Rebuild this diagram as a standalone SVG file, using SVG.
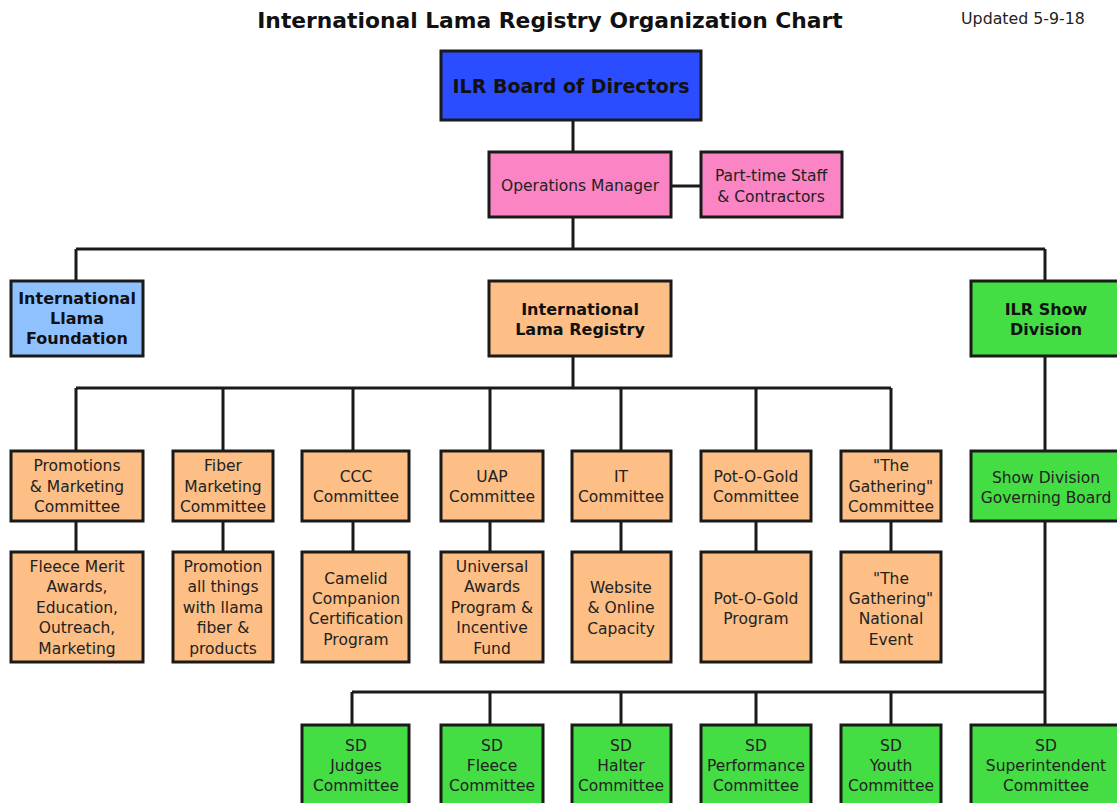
<svg xmlns="http://www.w3.org/2000/svg" width="1117" height="803" viewBox="0 0 1117 803">
<style>
.box{stroke:#1a1a1a;stroke-width:3}
.blue{fill:#2b4cff}.pink{fill:#fb84c4}.lblue{fill:#8fc1ff}.org{fill:#fdbf85}.grn{fill:#44dd44}
.t{font-family:"DejaVu Sans","Verdana",sans-serif;font-size:15.5px;fill:#222;text-anchor:middle}
.b{font-family:"DejaVu Sans","Verdana",sans-serif;font-size:16px;font-weight:bold;fill:#111;text-anchor:middle}
.c{fill:none;stroke:#1a1a1a;stroke-width:3}
</style>
<rect width="1117" height="803" fill="#fff"/>
<text x="550" y="28" style="font-family:'DejaVu Sans',sans-serif;font-size:21.8px;font-weight:bold;fill:#111" text-anchor="middle">International Lama Registry Organization Chart</text>
<text x="1023" y="24" style="font-family:'DejaVu Sans',sans-serif;font-size:15.8px;fill:#222" text-anchor="middle">Updated 5-9-18</text>

<g id="connectors">
<path class="c" d="M573 120V152M671 186H701M573 217V249M76 249H1045M76 249V281M1045 249V281M573 356V388M76 388H891M76 388V451M223 388V451M353 388V451M490 388V451M621 388V451M756 388V451M891 388V451"/>
<path class="c" d="M76 521V552M223 521V552M353 521V552M490 521V552M621 521V552M756 521V552M891 521V552"/>
<path class="c" d="M1045 356V451M1045 521V725M352 692H1045M352 692V725M490 692V725M621 692V725M756 692V725M891 692V725"/>
</g>

<g id="board"><rect class="box blue" x="441" y="51" width="260" height="69"/><text class="b" x="571" y="93" style="font-size:19px">ILR Board of Directors</text></g>
<g id="ops"><rect class="box pink" x="489" y="152" width="182" height="65"/><text class="t" x="580" y="190.5">Operations Manager</text></g>
<g id="parttime"><rect class="box pink" x="701" y="152" width="141" height="65"/><text class="t" x="771" y="180.5">Part-time Staff</text><text class="t" x="771" y="201.5">&amp; Contractors</text></g>

<g id="ilf"><rect class="box lblue" x="11" y="281" width="132" height="75"/><text class="b" x="77" y="304">International</text><text class="b" x="77" y="324">Llama</text><text class="b" x="77" y="344">Foundation</text></g>
<g id="ilr"><rect class="box org" x="489" y="281" width="182" height="75"/><text class="b" x="580" y="315">International</text><text class="b" x="580" y="335">Lama Registry</text></g>
<g id="showdiv"><rect class="box grn" x="971" y="281" width="150" height="75"/><text class="b" x="1046" y="315">ILR Show</text><text class="b" x="1046" y="335">Division</text></g>

<g id="promo"><rect class="box org" x="11" y="451" width="132" height="70"/><text class="t" x="77" y="471">Promotions</text><text class="t" x="77" y="491.5">&amp; Marketing</text><text class="t" x="77" y="512">Committee</text></g>
<g id="fiber"><rect class="box org" x="173" y="451" width="100" height="70"/><text class="t" x="223" y="471">Fiber</text><text class="t" x="223" y="491.5">Marketing</text><text class="t" x="223" y="512">Committee</text></g>
<g id="ccc"><rect class="box org" x="302" y="451" width="107" height="70"/><text class="t" x="356" y="482">CCC</text><text class="t" x="356" y="502">Committee</text></g>
<g id="uap"><rect class="box org" x="441" y="451" width="102" height="70"/><text class="t" x="492" y="482">UAP</text><text class="t" x="492" y="502">Committee</text></g>
<g id="it"><rect class="box org" x="572" y="451" width="99" height="70"/><text class="t" x="621" y="482">IT</text><text class="t" x="621" y="502">Committee</text></g>
<g id="pog"><rect class="box org" x="701" y="451" width="110" height="70"/><text class="t" x="756" y="482">Pot-O-Gold</text><text class="t" x="756" y="502">Committee</text></g>
<g id="gath"><rect class="box org" x="841" y="451" width="100" height="70"/><text class="t" x="891" y="471">"The</text><text class="t" x="891" y="491.5">Gathering"</text><text class="t" x="891" y="512">Committee</text></g>
<g id="sdgb"><rect class="box grn" x="971" y="451" width="150" height="70"/><text class="t" x="1046" y="482.5">Show Division</text><text class="t" x="1046" y="502.5">Governing Board</text></g>

<g id="fleece"><rect class="box org" x="11" y="552" width="132" height="110"/><text class="t" x="77" y="571.5">Fleece Merit</text><text class="t" x="77" y="592">Awards,</text><text class="t" x="77" y="612.5">Education,</text><text class="t" x="77" y="633">Outreach,</text><text class="t" x="77" y="653.5">Marketing</text></g>
<g id="promofiber"><rect class="box org" x="173" y="552" width="100" height="110"/><text class="t" x="223" y="571.5">Promotion</text><text class="t" x="223" y="592">all things</text><text class="t" x="223" y="612.5">with llama</text><text class="t" x="223" y="633">fiber &amp;</text><text class="t" x="223" y="653.5">products</text></g>
<g id="camelid"><rect class="box org" x="302" y="552" width="107" height="110"/><text class="t" x="356" y="583.5">Camelid</text><text class="t" x="356" y="603.5">Companion</text><text class="t" x="356" y="624">Certification</text><text class="t" x="356" y="644.5">Program</text></g>
<g id="universal"><rect class="box org" x="441" y="552" width="102" height="110"/><text class="t" x="492" y="571.5">Universal</text><text class="t" x="492" y="592">Awards</text><text class="t" x="492" y="612.5">Program &amp;</text><text class="t" x="492" y="633">Incentive</text><text class="t" x="492" y="653.5">Fund</text></g>
<g id="website"><rect class="box org" x="572" y="552" width="99" height="110"/><text class="t" x="621" y="592.5">Website</text><text class="t" x="621" y="613">&amp; Online</text><text class="t" x="621" y="633.5">Capacity</text></g>
<g id="pogprog"><rect class="box org" x="701" y="552" width="110" height="110"/><text class="t" x="756" y="603.5">Pot-O-Gold</text><text class="t" x="756" y="624">Program</text></g>
<g id="gathevent"><rect class="box org" x="841" y="552" width="100" height="110"/><text class="t" x="891" y="583.5">"The</text><text class="t" x="891" y="603.5">Gathering"</text><text class="t" x="891" y="624">National</text><text class="t" x="891" y="644.5">Event</text></g>

<g id="sdjudges"><rect class="box grn" x="302" y="725" width="107" height="90"/><text class="t" x="356" y="750.5">SD</text><text class="t" x="356" y="770.5">Judges</text><text class="t" x="356" y="790.5">Committee</text></g>
<g id="sdfleece"><rect class="box grn" x="441" y="725" width="102" height="90"/><text class="t" x="492" y="750.5">SD</text><text class="t" x="492" y="770.5">Fleece</text><text class="t" x="492" y="790.5">Committee</text></g>
<g id="sdhalter"><rect class="box grn" x="572" y="725" width="99" height="90"/><text class="t" x="621" y="750.5">SD</text><text class="t" x="621" y="770.5">Halter</text><text class="t" x="621" y="790.5">Committee</text></g>
<g id="sdperf"><rect class="box grn" x="701" y="725" width="110" height="90"/><text class="t" x="756" y="750.5">SD</text><text class="t" x="756" y="770.5">Performance</text><text class="t" x="756" y="790.5">Committee</text></g>
<g id="sdyouth"><rect class="box grn" x="841" y="725" width="100" height="90"/><text class="t" x="891" y="750.5">SD</text><text class="t" x="891" y="770.5">Youth</text><text class="t" x="891" y="790.5">Committee</text></g>
<g id="sdsuper"><rect class="box grn" x="971" y="725" width="150" height="90"/><text class="t" x="1046" y="750.5">SD</text><text class="t" x="1046" y="770.5">Superintendent</text><text class="t" x="1046" y="790.5">Committee</text></g>
</svg>
